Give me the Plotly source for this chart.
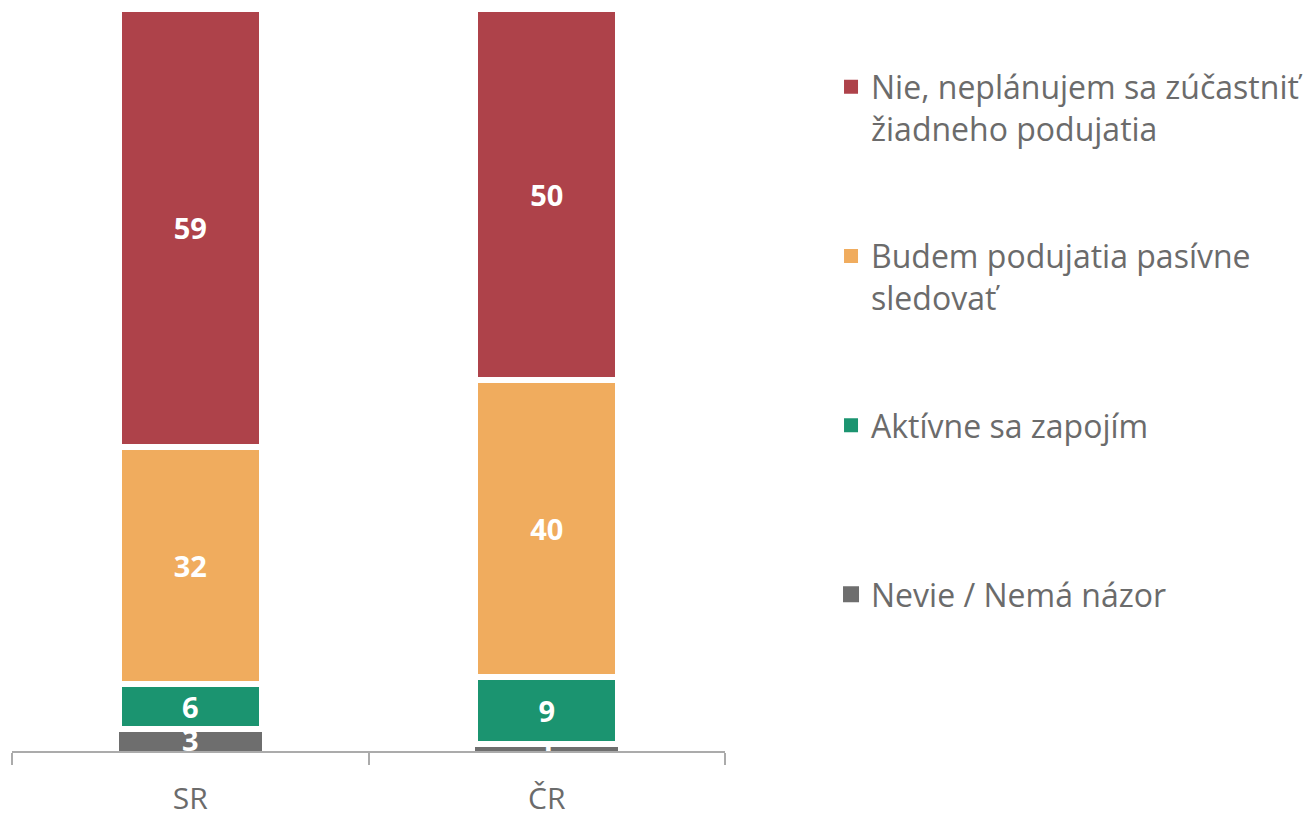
import plotly.graph_objects as go

categories = ["SR", "ČR"]
nevie = [3, 1]
aktivne = [6, 9]
budem = [32, 40]
nie = [59, 50]

series_names = [
    "Nevie / Nemá názor",
    "Aktívne sa zapojím<br> ",
    "Budem podujatia pasívne<br>sledovať",
    "Nie, neplánujem sa zúčastniť<br>žiadneho podujatia",
]
series_values = [nevie, aktivne, budem, nie]
series_colors = ["#6e6e6e", "#1b9470", "#f0ac5e", "#ae424a"]
outline_widths = [0, 6, 6, 6]
legend_ranks = [4, 3, 2, 1]
legend_symbol_sizes = [16, 14, 14, 14]

FONT = "Open Sans"
TEXT_GRAY = "#6b6b6b"

fig = go.Figure()
for i, (name, vals, col, lw) in enumerate(zip(series_names, series_values, series_colors, outline_widths)):
    fig.add_trace(go.Bar(
        x=categories,
        y=vals,
        name=name,
        legendgroup=f"g{i}",
        showlegend=False,
        width=0.401,
        marker=dict(color=col, line=dict(color="white", width=lw)),
        text=[str(v) for v in vals],
        textposition="inside",
        insidetextanchor="middle",
        textangle=0,
        textfont=dict(family=FONT, size=29, color="white", weight="bold"),
    ))

# legend entries (square swatches)
for i, (name, col, rk, sz) in enumerate(zip(series_names, series_colors, legend_ranks, legend_symbol_sizes)):
    fig.add_trace(go.Scatter(
        x=[None],
        y=[None],
        mode="markers",
        name=name,
        legendgroup=f"g{i}",
        legendrank=rk,
        showlegend=True,
        marker=dict(symbol="square", size=sz, color=col),
        hoverinfo="skip",
    ))

fig.update_layout(
    width=1306,
    height=805,
    barmode="stack",
    plot_bgcolor="white",
    paper_bgcolor="white",
    margin=dict(l=4, r=589, t=1, b=62, autoexpand=False),
    uniformtext=dict(minsize=29, mode="show"),
    font=dict(family=FONT, color=TEXT_GRAY),
    showlegend=True,
    legend=dict(
        traceorder="grouped",
        tracegroupgap=83,
        itemsizing="trace",
        x=1.1487,
        xanchor="left",
        y=0.932,
        yanchor="top",
        valign="top",
        font=dict(family=FONT, size=32, color=TEXT_GRAY),
        bgcolor="rgba(0,0,0,0)",
    ),
    xaxis=dict(
        showline=True,
        linecolor="#ababab",
        linewidth=1.5,
        ticks="outside",
        tickson="boundaries",
        ticklen=12,
        tickwidth=1.5,
        tickcolor="#ababab",
        ticklabelstandoff=20,
        tickfont=dict(family=FONT, size=30, color=TEXT_GRAY),
        showgrid=False,
        zeroline=False,
    ),
    yaxis=dict(
        range=[0, 100],
        visible=False,
        showgrid=False,
        zeroline=False,
    ),
)

fig.write_html("out.html")
